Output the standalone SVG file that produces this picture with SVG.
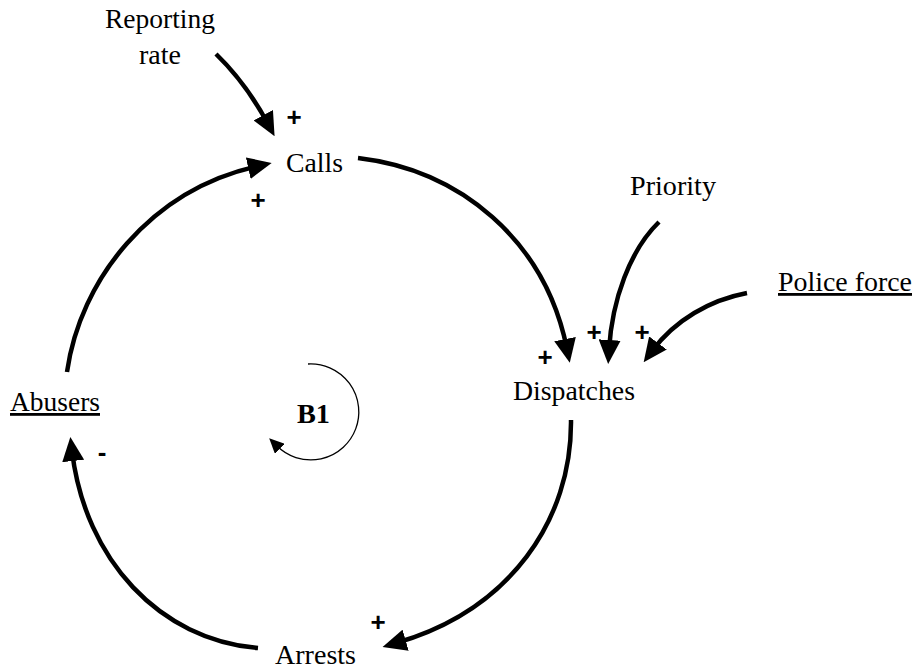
<svg xmlns="http://www.w3.org/2000/svg" width="913" height="668" viewBox="0 0 913 668">
<style>
.n{font-family:"Liberation Serif","DejaVu Serif",serif;font-size:28px;fill:#000}
.u{text-decoration:underline}
.b{font-weight:bold}
.s{font-family:"Liberation Sans","DejaVu Sans",sans-serif;font-weight:bold;font-size:26px;text-anchor:middle;fill:#000}
.c{fill:none;stroke:#000;stroke-width:4.5}
.t{fill:none;stroke:#000;stroke-width:1.3}
</style>
<defs>
<marker id="ah" viewBox="0 0 24 22" refX="10" refY="11" markerWidth="24" markerHeight="22" markerUnits="userSpaceOnUse" orient="auto">
<path d="M0,0 L24,11 L0,22 z" fill="#000"/>
</marker>
<marker id="ahs" viewBox="0 0 15 14" refX="4" refY="7" markerWidth="15" markerHeight="14" markerUnits="userSpaceOnUse" orient="auto">
<path d="M0,0 L15,7 L0,14 z" fill="#000"/>
</marker>
</defs>
<rect width="913" height="668" fill="#fff"/>
<g id="connectors">
<path class="c" d="M216,54 Q246,83 268,124" marker-end="url(#ah)"/>
<path class="c" d="M67,372 C80,280 150,190 258,166" marker-end="url(#ah)"/>
<path class="c" d="M358,158 C460,170 545,240 567,349" marker-end="url(#ah)"/>
<path class="c" d="M659,222 C630,250 612,300 609,350" marker-end="url(#ah)"/>
<path class="c" d="M747,293 C710,300 675,320 652,351" marker-end="url(#ah)"/>
<path class="c" d="M571,420 C572,520 510,610 396,643" marker-end="url(#ah)"/>
<path class="c" d="M258,648 C160,640 85,560 72,451" marker-end="url(#ah)"/>
<path class="t" d="M308,364 A48,48 0 1 1 277,446" marker-end="url(#ahs)"/>
</g>
<g id="polarities">
<text class="s" x="294" y="126">+</text>
<text class="s" x="258" y="209">+</text>
<text class="s" x="545" y="366">+</text>
<text class="s" x="594" y="341">+</text>
<text class="s" x="642" y="341">+</text>
<text class="s" x="378" y="631">+</text>
<text class="s" x="102" y="461">-</text>
</g>
<g id="reporting-rate"><text class="n" x="105" y="28" textLength="110" lengthAdjust="spacingAndGlyphs">Reporting</text><text class="n" x="139" y="64" textLength="42" lengthAdjust="spacingAndGlyphs">rate</text></g>
<g id="calls"><text class="n" x="286" y="172" textLength="57" lengthAdjust="spacingAndGlyphs">Calls</text></g>
<g id="priority"><text class="n" x="630" y="195" textLength="86" lengthAdjust="spacingAndGlyphs">Priority</text></g>
<g id="police-force"><text class="n u" x="778" y="291" textLength="134" lengthAdjust="spacingAndGlyphs">Police force</text></g>
<g id="dispatches"><text class="n" x="513" y="400" textLength="122" lengthAdjust="spacingAndGlyphs">Dispatches</text></g>
<g id="abusers"><text class="n u" x="10" y="411" textLength="90" lengthAdjust="spacingAndGlyphs">Abusers</text></g>
<g id="b1"><text class="n b" x="297" y="423" textLength="33" lengthAdjust="spacingAndGlyphs">B1</text></g>
<g id="arrests"><text class="n" x="275" y="664" textLength="81" lengthAdjust="spacingAndGlyphs">Arrests</text></g>
</svg>
